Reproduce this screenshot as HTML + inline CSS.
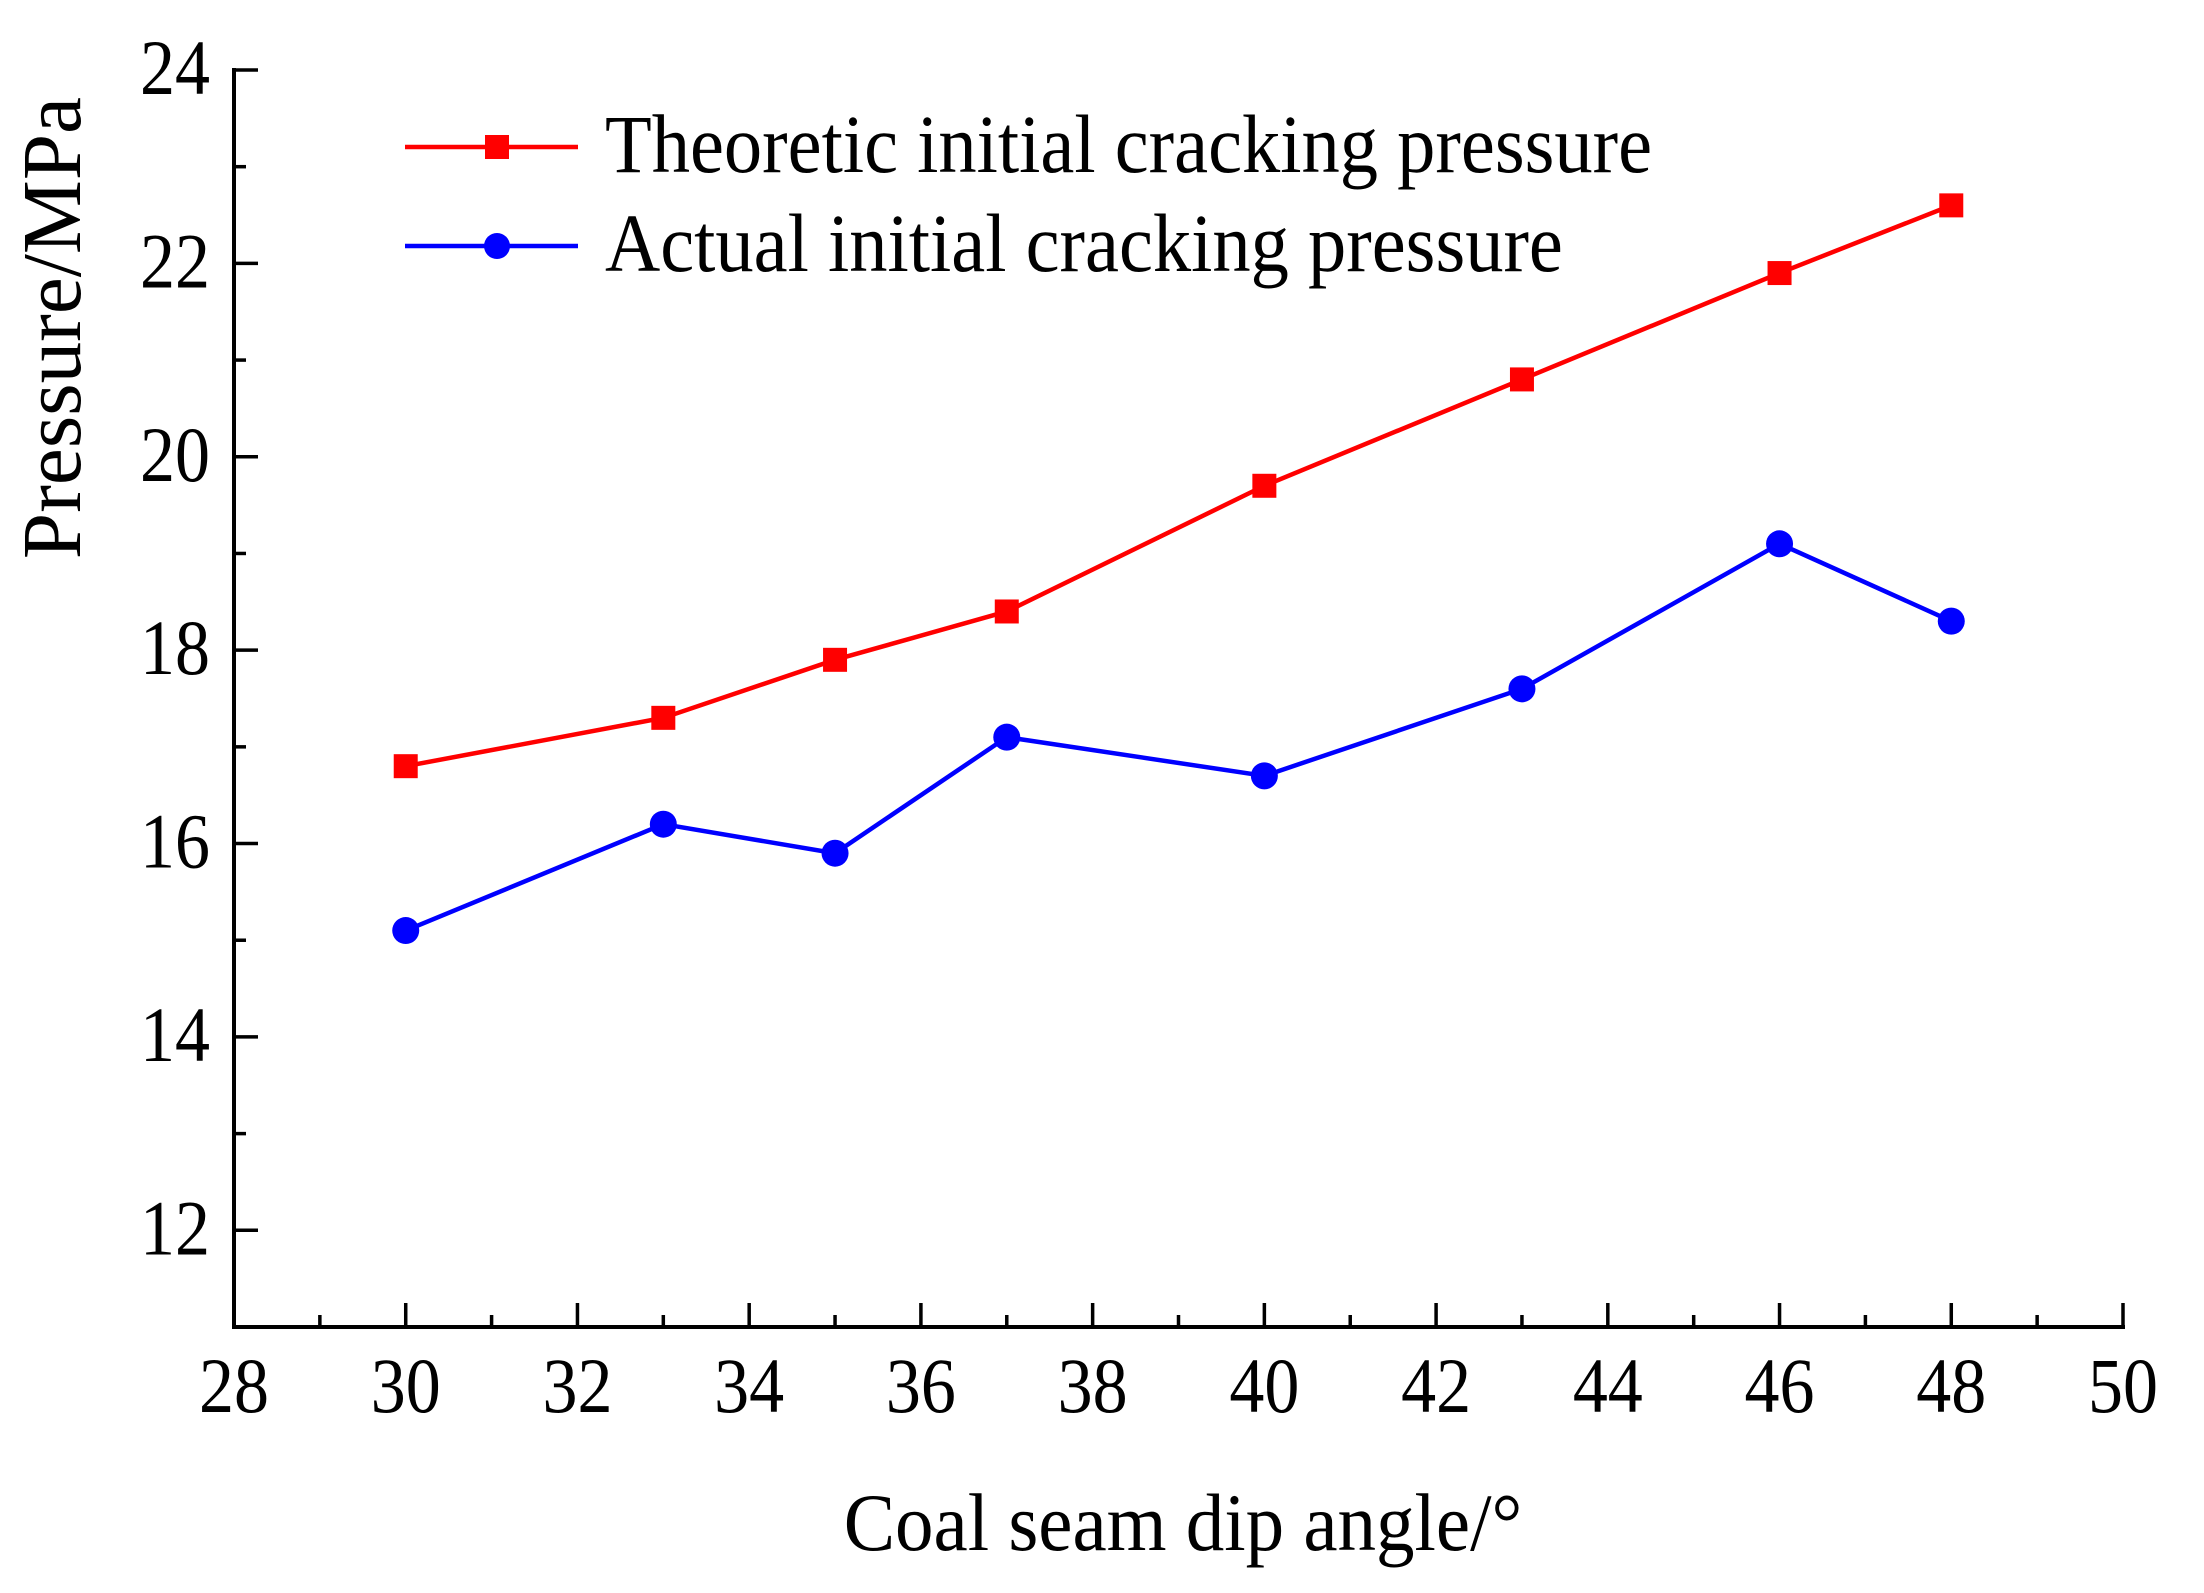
<!DOCTYPE html>
<html><head><meta charset="utf-8"><style>
html,body{margin:0;padding:0;background:#fff;}
svg text{font-family:"Liberation Serif",serif;fill:#000;}
</style></head><body>
<svg id="chart" width="2204" height="1588" viewBox="0 0 2204 1588" xmlns="http://www.w3.org/2000/svg">
<g id="axes"></g>
<g id="series"></g>
<g id="legend">
  <line x1="405" y1="147" x2="578" y2="147" stroke="#ff0000" stroke-width="4.5"/>
  <rect x="485" y="135" width="24" height="24" fill="#ff0000"/>
  <text x="605" y="172" font-size="76.5" transform="translate(605,172) scale(1,1.08) translate(-605,-172)">Theoretic initial cracking pressure</text>
  <line x1="405" y1="246" x2="578" y2="246" stroke="#0000ff" stroke-width="4.5"/>
  <circle cx="497" cy="246" r="13" fill="#0000ff"/>
  <text x="605" y="271" font-size="76.5" transform="translate(605,271) scale(1,1.08) translate(-605,-271)">Actual initial cracking pressure</text>
</g>
<text x="1183" y="1550" font-size="77" text-anchor="middle" transform="translate(1183,1550) scale(1,1.06) translate(-1183,-1550)">Coal seam dip angle/°</text>
<text transform="translate(80,328) rotate(-90) scale(1.04,1.04)" font-size="80" text-anchor="middle">Pressure/MPa</text>
</svg>
<script>
const categories = [30, 33, 35, 37, 40, 43, 46, 48];
const theoretic = [16.8, 17.3, 17.9, 18.4, 19.7, 20.8, 21.9, 22.6];
const actual = [15.1, 16.2, 15.9, 17.1, 16.7, 17.6, 19.1, 18.3];
const xTicks = [28, 30, 32, 34, 36, 38, 40, 42, 44, 46, 48, 50];
const yTicks = [12, 14, 16, 18, 20, 22, 24];

const NS = "http://www.w3.org/2000/svg";
const X0=234, X1=2123, Y0=1327, Y1=70;
const xMin=28, xMax=50, yMin=11, yMax=24;
function sx(v){return X0+(v-xMin)/(xMax-xMin)*(X1-X0);}
function sy(v){return Y0-(v-yMin)/(yMax-yMin)*(Y0-Y1);}
function mk(tag, attrs, parent){const e=document.createElementNS(NS,tag);for(const k in attrs)e.setAttribute(k,attrs[k]);parent.appendChild(e);return e;}

const axes=document.getElementById('axes');
let e;
e=mk('line',{x1:X0,y1:Y0,x2:X1,y2:Y0,stroke:'#000','stroke-width':4,'stroke-linecap':'square'},axes);


e=mk('line',{x1:X0,y1:Y0,x2:X0,y2:Y1,stroke:'#000','stroke-width':4,'stroke-linecap':'square'},axes);


for(let v=xMin; v<=xMax; v+=1){
  const major = xTicks.includes(v);
  e=mk('line',{x1:sx(v),y1:Y0,x2:sx(v),y2:Y0-(major?24:12),stroke:'#000','stroke-width':3.5},axes);
  
  
}
xTicks.forEach(v=>{
  const x=sx(v), y=1412;
  e=mk('text',{x:x,y:y,'font-size':70,'text-anchor':'middle',transform:`translate(${x},${y}) scale(1,1.12) translate(${-x},${-y})`},axes);
  e.textContent=v;
  
  
});
for(let v=yMin; v<=yMax; v+=1){
  const major = yTicks.includes(v);
  if(v===yMin) continue;
  e=mk('line',{x1:X0,y1:sy(v),x2:X0+(major?24:12),y2:sy(v),stroke:'#000','stroke-width':3.5},axes);
  
  
}
yTicks.forEach(v=>{
  const x=210, y=sy(v)+24;
  e=mk('text',{x:x,y:y,'font-size':70,'text-anchor':'end',transform:`translate(${x},${y}) scale(1,1.12) translate(${-x},${-y})`},axes);
  e.textContent=v;
  
  
});

const series=document.getElementById('series');
function pts(vals){return categories.map((c,i)=>sx(c)+','+sy(vals[i])).join(' ');}
e=mk('polyline',{points:pts(theoretic),fill:'none',stroke:'#ff0000','stroke-width':4.5},series);


e=mk('polyline',{points:pts(actual),fill:'none',stroke:'#0000ff','stroke-width':4.5},series);


categories.forEach((c,i)=>{
  e=mk('rect',{x:sx(c)-12,y:sy(theoretic[i])-12,width:24,height:24,fill:'#ff0000'},series);
  
  
  e=mk('circle',{cx:sx(c),cy:sy(actual[i]),r:13.5,fill:'#0000ff'},series);
  
  
});
</script>
</body></html>
